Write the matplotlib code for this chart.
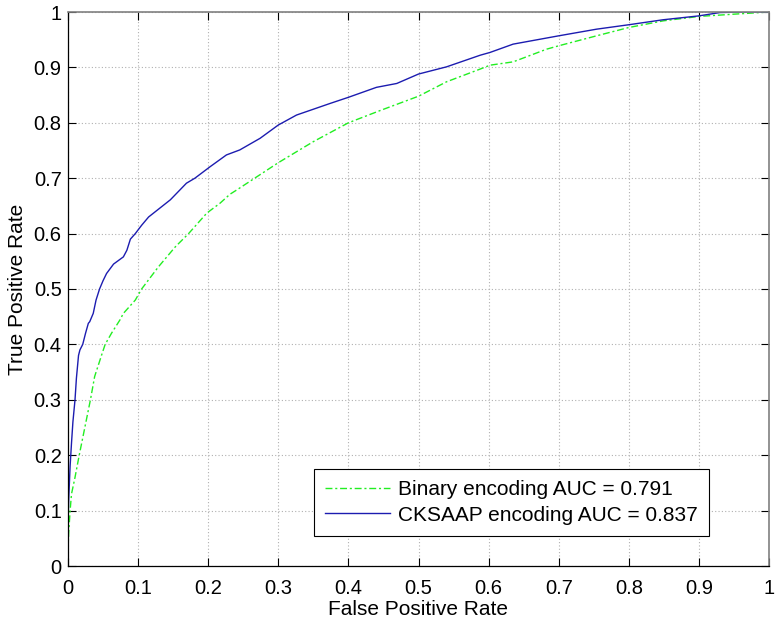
import matplotlib
matplotlib.use("Agg")
import matplotlib.pyplot as plt

plt.rcParams['font.family'] = ['Liberation Sans', 'DejaVu Sans']

# CKSAAP encoding ROC (blue)
cks_fpr = [0, 0.0, 0.001, 0.002, 0.003, 0.005, 0.007, 0.010, 0.012, 0.015, 0.017, 0.021,
           0.025, 0.029, 0.031, 0.036, 0.040, 0.045, 0.050, 0.055, 0.065, 0.079, 0.084,
           0.089, 0.096, 0.105, 0.115, 0.130, 0.146, 0.169, 0.181, 0.203, 0.226, 0.245,
           0.274, 0.30, 0.326, 0.374, 0.40, 0.44, 0.469, 0.50, 0.54, 0.588, 0.602, 0.635,
           0.70, 0.754, 0.80, 0.849, 0.90, 0.93, 0.96, 1.0]
cks_tpr = [0, 0.08, 0.12, 0.15, 0.18, 0.222, 0.26, 0.30, 0.339, 0.38, 0.39, 0.40,
           0.42, 0.438, 0.441, 0.456, 0.48, 0.50, 0.515, 0.528, 0.545, 0.558, 0.570,
           0.590, 0.600, 0.615, 0.630, 0.645, 0.661, 0.691, 0.700, 0.721, 0.742, 0.751,
           0.772, 0.796, 0.814, 0.835, 0.846, 0.864, 0.871, 0.888, 0.901, 0.922, 0.927, 0.942,
           0.957, 0.969, 0.977, 0.986, 0.993, 0.999, 1.0, 1.0]

# Binary encoding ROC (green)
bin_fpr = [0, 0.0, 0.001, 0.003, 0.005, 0.010, 0.016, 0.024, 0.032, 0.038, 0.048, 0.053,
           0.062, 0.074, 0.079, 0.096, 0.105, 0.129, 0.153, 0.172, 0.198, 0.217, 0.231,
           0.241, 0.30, 0.35, 0.40, 0.445, 0.50, 0.54, 0.588, 0.602, 0.635, 0.683, 0.70,
           0.754, 0.80, 0.849, 0.90, 0.949, 1.0]
bin_tpr = [0, 0.03, 0.06, 0.10, 0.13, 0.16, 0.20, 0.25, 0.30, 0.342, 0.381, 0.40,
           0.42, 0.444, 0.456, 0.48, 0.50, 0.540, 0.576, 0.60, 0.637, 0.655, 0.671,
           0.679, 0.728, 0.766, 0.800, 0.822, 0.848, 0.874, 0.897, 0.904, 0.910, 0.933, 0.939,
           0.957, 0.972, 0.984, 0.992, 0.996, 1.0]

labels = ["Binary encoding AUC = 0.791", "CKSAAP encoding AUC = 0.837"]
ticks = [0, 0.1, 0.2, 0.3, 0.4, 0.5, 0.6, 0.7, 0.8, 0.9, 1]
tick_labels = ["0", "0.1", "0.2", "0.3", "0.4", "0.5", "0.6", "0.7", "0.8", "0.9", "1"]

fig = plt.figure(figsize=(7.77, 6.22), dpi=100)
ax = fig.add_axes([68/777, 56/622, 701/777, 554/622])

ax.plot(bin_fpr, bin_tpr, linestyle=(0, (5, 2, 1.5, 2)), color='#22ee22', linewidth=1.0,
        label=labels[0])
ax.plot(cks_fpr, cks_tpr, linestyle='-', color='#1c1cb0', linewidth=1.0, label=labels[1])

ax.set_xlim(0, 1)
ax.set_ylim(0, 1)
ax.set_xticks(ticks)
ax.set_xticklabels(tick_labels)
ax.set_yticks(ticks)
ax.set_yticklabels(tick_labels)
ax.tick_params(direction='in', length=5.5, width=0.8, labelsize=14.5, top=True, right=True,
               color='black')
ax.tick_params(axis='x', pad=9)
ax.tick_params(axis='y', pad=4.5)
ax.grid(True, linestyle=(0, (1, 2)), color='#b0b0b0', linewidth=0.8)
for s in ['left', 'bottom']:
    ax.spines[s].set_color('black')
    ax.spines[s].set_linewidth(0.9)
for s in ['top', 'right']:
    ax.spines[s].set_color('#808080')
    ax.spines[s].set_linewidth(1.2)

ax.set_xlabel("False Positive Rate", fontsize=15, labelpad=2)
ax.set_ylabel("True Positive Rate", fontsize=15, labelpad=5)

leg = ax.legend(loc='lower right', bbox_to_anchor=(0.915, 0.054), fontsize=15,
                frameon=True, fancybox=False, edgecolor='black', framealpha=1,
                handlelength=3.1, borderpad=0.55, labelspacing=0.3, handletextpad=0.4,
                borderaxespad=0)
leg.get_frame().set_linewidth(0.8)

fig.savefig("out.png", dpi=100)
